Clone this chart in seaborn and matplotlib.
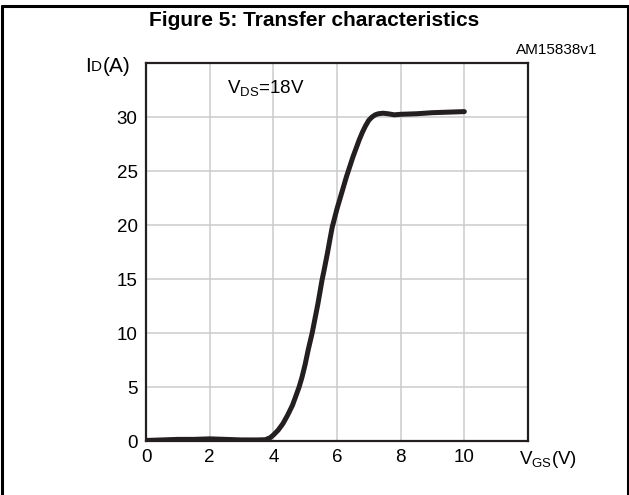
import matplotlib
matplotlib.use("Agg")
import matplotlib.pyplot as plt
import seaborn as sns
import pandas as pd
from matplotlib.lines import Line2D

# ---- data ----
vgs = [0.0, 0.5, 1.0, 1.5, 2.0, 2.5, 3.0, 3.5, 3.75, 3.9, 4.0, 4.15, 4.3, 4.45,
       4.6, 4.7, 4.81, 4.9, 5.0, 5.1, 5.22, 5.3, 5.4, 5.53, 5.6, 5.7, 5.78, 5.85,
       6.0, 6.1, 6.2, 6.3, 6.4, 6.5, 6.6, 6.7, 6.8, 6.9, 7.0, 7.1, 7.2, 7.3, 7.45,
       7.6, 7.8, 8.0, 8.5, 9.0, 9.5, 10.0]
i_d = [0.05, 0.1, 0.15, 0.15, 0.2, 0.15, 0.1, 0.1, 0.12, 0.3, 0.55, 1.0, 1.6, 2.4,
       3.3, 4.1, 5.0, 5.9, 7.1, 8.5, 10.0, 11.2, 12.7, 14.9, 15.9, 17.4, 18.7, 19.8,
       21.5, 22.5, 23.5, 24.5, 25.4, 26.3, 27.1, 27.9, 28.6, 29.2, 29.7, 30.0, 30.2,
       30.3, 30.35, 30.3, 30.2, 30.25, 30.3, 30.4, 30.45, 30.5]
x_ticks = [0, 2, 4, 6, 8, 10]
y_ticks = [0, 5, 10, 15, 20, 25, 30]

title = "Figure 5: Transfer characteristics"
code = "AM15838v1"

df = pd.DataFrame({"vgs": vgs, "id": i_d})

sns.set_theme(style="white")
plt.rcParams["font.family"] = ["Liberation Sans", "DejaVu Sans"]
plt.rcParams["mathtext.fontset"] = "custom"
plt.rcParams["mathtext.rm"] = "Liberation Sans"

ink = "#231f20"
fig = plt.figure(figsize=(6.29, 4.95), dpi=100)
ax = fig.add_axes([146 / 629, 1 - 441 / 495, (528 - 146) / 629, (441 - 63) / 495])

sns.lineplot(data=df, x="vgs", y="id", ax=ax, color=ink, linewidth=3.6,
             sort=False, estimator=None, solid_capstyle="round", solid_joinstyle="round")

ax.set_xlim(0, 12)
ax.set_ylim(0, 35)
ax.set_xticks(x_ticks)
ax.set_yticks(y_ticks)
ax.set_xticklabels([str(t) for t in x_ticks])
ax.set_yticklabels([str(t) for t in y_ticks])
ax.grid(True, color="#cccccc", linewidth=1.1)
ax.set_axisbelow(True)
ax.tick_params(axis="both", length=0, labelsize=13.5, colors="black", pad=6)
for s in ax.spines.values():
    s.set_visible(True)
    s.set_color(ink)
    s.set_linewidth(1.6)
ax.set_xlabel("")
ax.set_ylabel("")

# axis labels
fig.text(548 / 629, 1 - 459 / 495, r"V$_{\mathregular{GS}}$(V)", ha="center", va="center",
         fontsize=13.5, color="black")
t1 = fig.text(85 / 629, 1 - 67 / 495, "I", fontsize=15, ha="left", va="center", color="black")
fig.canvas.draw()
rend = fig.canvas.get_renderer()
bb = t1.get_window_extent(rend)
t2 = fig.text(bb.x1 / 629 + 0.5 / 629, bb.y0 / 495 + 2.5 / 495, "D", fontsize=11,
              ha="left", va="bottom", color="black")
bb2 = t2.get_window_extent(rend)
fig.text(bb2.x1 / 629 + 0.5 / 629, 1 - 67 / 495, "(A)", fontsize=15, ha="left", va="center",
         color="black")

ax.text(2.55, 32.6, r"V$_{\mathregular{DS}}$=18V", fontsize=13.5, ha="left", va="center",
        color="black")

fig.text(0.5, 1 - 21 / 495, title, fontsize=15, fontweight="bold", ha="center",
         va="center", color="black")
fig.text(597 / 629, 1 - 50 / 495, code, fontsize=11, ha="right", va="center", color="black")

# figure frame
for (x0, y0, x1, y1) in [(1.5, 6, 627.5, 6), (1.5, 6, 1.5, 495), (627.5, 6, 627.5, 495)]:
    fig.add_artist(Line2D([x0 / 629, x1 / 629], [1 - y0 / 495, 1 - y1 / 495],
                          transform=fig.transFigure, color="black", linewidth=2.2))

fig.savefig("out.png", dpi=100)
